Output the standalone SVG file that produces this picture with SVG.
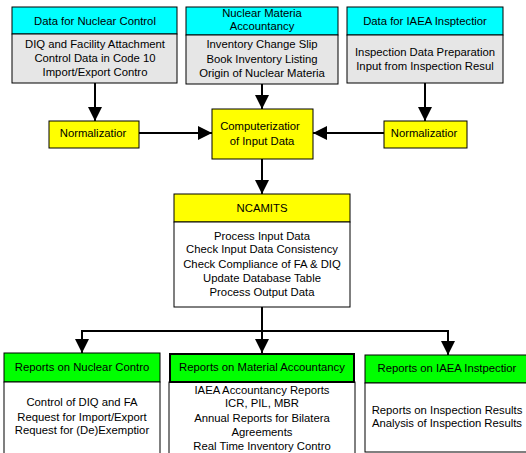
<svg xmlns="http://www.w3.org/2000/svg" width="526" height="453" viewBox="0 0 526 453">
<defs>
<marker id="ah" markerUnits="userSpaceOnUse" markerWidth="14" markerHeight="14" refX="14" refY="7" orient="auto">
<path d="M0,0 L14,7 L0,14 z" fill="#000"/>
</marker>
<style>
text{font-family:"Liberation Sans",Arial,sans-serif;font-size:11.3px;fill:#000;text-anchor:middle}
.b{stroke:#000;stroke-width:1}
.cy{fill:#00ffff}
.gr{fill:#e6e6e6}
.ye{fill:#ffff00}
.gn{fill:#00ff00}
.wh{fill:#fff}
.c{fill:none;stroke:#000;stroke-width:2}
</style>
</defs>
<rect width="526" height="453" fill="#fff"/>
<g id="connectors">
<line class="c" x1="95" y1="83" x2="95" y2="121" marker-end="url(#ah)"/>
<line class="c" x1="262" y1="84" x2="262" y2="109" marker-end="url(#ah)"/>
<line class="c" x1="425" y1="83" x2="425" y2="121" marker-end="url(#ah)"/>
<line class="c" x1="139" y1="133" x2="212" y2="133" marker-end="url(#ah)"/>
<line class="c" x1="384" y1="133" x2="313" y2="133" marker-end="url(#ah)"/>
<line class="c" x1="262" y1="159" x2="262" y2="194" marker-end="url(#ah)"/>
<polyline class="c" points="262,307 262,331"/>
<polyline class="c" points="82,353 82,331 448,331 448,355" marker-end="url(#ah)"/>
<line class="c" x1="82" y1="331" x2="82" y2="353" marker-end="url(#ah)"/>
<line class="c" x1="262" y1="331" x2="262" y2="353" marker-end="url(#ah)"/>
</g>
<g id="data-nuclear-control">
<rect class="b cy" x="12" y="7" width="165" height="27"/>
<rect class="b gr" x="12" y="34" width="165" height="49"/>
<text x="95" y="25">Data for Nuclear Control</text>
<text x="95" y="48">DIQ and Facility Attachment</text>
<text x="95" y="62">Control Data in Code 10</text>
<text x="95" y="76">Import/Export Contro</text>
</g>
<g id="nuclear-material-accountancy">
<rect class="b cy" x="186" y="7" width="152" height="28"/>
<rect class="b gr" x="186" y="35" width="152" height="49"/>
<text x="262" y="17">Nuclear Materia</text>
<text x="262" y="30">Accountancy</text>
<text x="262" y="48">Inventory Change Slip</text>
<text x="262" y="63">Book Inventory Listing</text>
<text x="262" y="77">Origin of Nuclear Materia</text>
</g>
<g id="data-iaea-inspection">
<rect class="b cy" x="347" y="7" width="156" height="28"/>
<rect class="b gr" x="347" y="35" width="156" height="48"/>
<text x="425" y="25">Data for IAEA Insptectior</text>
<text x="425" y="56">Inspection Data Preparation</text>
<text x="425" y="70">Input from Inspection Resul</text>
</g>
<g id="normalization-left">
<rect class="b ye" x="49" y="121" width="90" height="27"/>
<text x="93" y="137">Normalizatior</text>
</g>
<g id="computerization">
<rect class="b ye" x="212" y="109" width="101" height="50"/>
<text x="260" y="130">Computerizatior</text>
<text x="262" y="145">of Input Data</text>
</g>
<g id="normalization-right">
<rect class="b ye" x="384" y="121" width="83" height="27"/>
<text x="424" y="137">Normalizatior</text>
</g>
<g id="ncamits">
<rect class="b ye" x="174" y="194" width="176" height="28"/>
<rect class="b wh" x="174" y="222" width="176" height="85"/>
<text x="262" y="212">NCAMITS</text>
<text x="262" y="240">Process Input Data</text>
<text x="262" y="253">Check Input Data Consistency</text>
<text x="262" y="268">Check Compliance of FA &amp; DIQ</text>
<text x="262" y="282">Update Database Table</text>
<text x="262" y="296">Process Output Data</text>
</g>
<g id="reports-nuclear-control">
<rect class="b gn" x="4" y="353" width="156" height="29"/>
<rect class="b wh" x="4" y="382" width="156" height="80"/>
<text x="82" y="371">Reports on Nuclear Contro</text>
<text x="82" y="406">Control of DIQ and FA</text>
<text x="82" y="421">Request for Import/Export</text>
<text x="82" y="434">Request for (De)Exemptior</text>
</g>
<g id="reports-material-accountancy">
<rect class="b wh" x="169" y="382" width="186" height="80"/>
<rect x="170" y="354" width="184" height="28" fill="#00ff00" stroke="#000" stroke-width="2"/>
<text x="262" y="371">Reports on Material Accountancy</text>
<text x="262" y="394">IAEA Accountancy Reports</text>
<text x="262" y="407">ICR, PIL, MBR</text>
<text x="262" y="422">Annual Reports for Bilatera</text>
<text x="262" y="436">Agreements</text>
<text x="262" y="450">Real Time Inventory Contro</text>
</g>
<g id="reports-iaea-inspection">
<rect class="b gn" x="365" y="355" width="165" height="28"/>
<rect class="b wh" x="365" y="383" width="165" height="69"/>
<text x="447" y="372">Reports on IAEA Instpectior</text>
<text x="447" y="414">Reports on Inspection Results</text>
<text x="447" y="427">Analysis of Inspection Results</text>
</g>
</svg>
